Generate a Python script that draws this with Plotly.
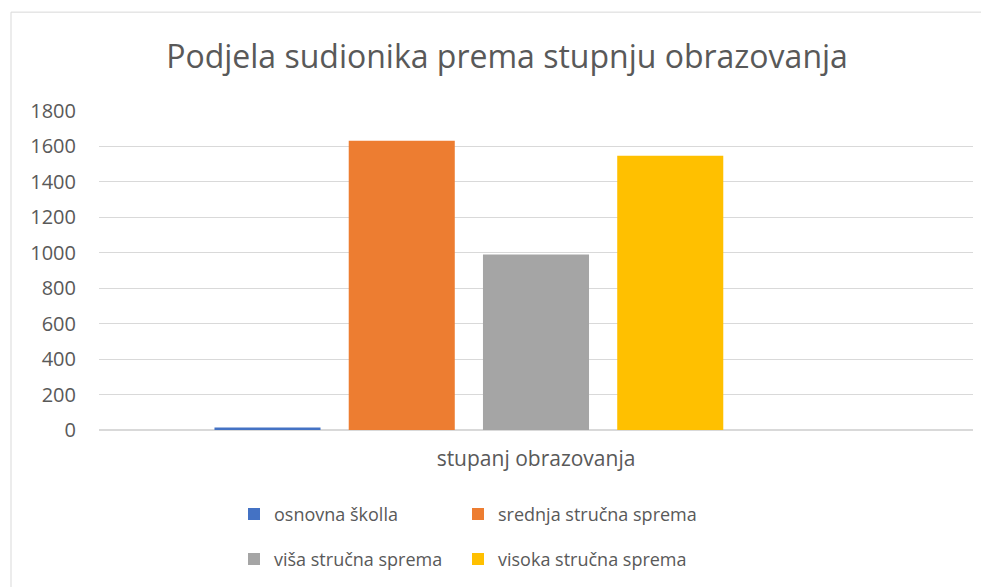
import plotly.graph_objects as go

categories = ["stupanj obrazovanja"]
series_names = ["osnovna školla", "srednja stručna sprema", "viša stručna sprema", "visoka stručna sprema"]
series_values = [14, 1632, 990, 1547]
series_colors = ["#4472C4", "#ED7D31", "#A5A5A5", "#FFC000"]
y_ticks = [0, 200, 400, 600, 800, 1000, 1200, 1400, 1600, 1800]
title_text = "Podjela sudionika prema stupnju obrazovanja"

OFF = 8  # page body margin
W, H = 989 - OFF, 587 - OFF
# plot area in page pixels: x 99..973, y 111..430.5
ML = 99 - OFF
MT = 111 - OFF
MR = W - ((989 - 16) - OFF)
MB = H - (430.5 - OFF)
FONT = "Open Sans"
TXT = "#595959"

fig = go.Figure()
legend_ids = ["legend", "legend2", "legend3", "legend4"]
for name, val, col, lg in zip(series_names, series_values, series_colors, legend_ids):
    fig.add_trace(go.Bar(x=categories, y=[val], name=name, marker_color=col,
                         marker_line_width=0, legend=lg))
# empty fifth slot (Excel layout leaves room for it)
fig.add_trace(go.Bar(x=categories, y=[None], name="", showlegend=False, hoverinfo="skip"))

pw = W - ML - MR
ph = H - MT - MB
def px2x(px):
    return (px - OFF - ML) / pw
def py2y(py):
    return (H - MB - (py - OFF)) / ph

fig.add_shape(type="rect", xref="paper", yref="paper",
              x0=px2x(11), x1=px2x(986), y0=py2y(620), y1=py2y(12),
              line=dict(color="#D9D9D9", width=1), fillcolor="rgba(0,0,0,0)", layer="below")

legend_pos = [(234, 515), (458, 515), (234, 560), (458, 560)]
legend_layouts = {}
for lg, (lx, ly) in zip(legend_ids, legend_pos):
    legend_layouts[lg] = dict(orientation="h", x=px2x(lx), xanchor="left", y=py2y(ly),
                              yanchor="middle", font=dict(size=18, color=TXT),
                              bgcolor="rgba(0,0,0,0)", itemclick=False)

fig.update_layout(
    width=W, height=H,
    margin=dict(l=ML, r=MR, t=MT, b=MB, autoexpand=False),
    paper_bgcolor="white", plot_bgcolor="white",
    barmode="group", bargap=0.232, bargroupgap=0.21,
    title=dict(text=title_text, x=(507 - OFF) / W, xanchor="center", y=1 - (57 - OFF) / H,
               yanchor="middle", yref="container", font=dict(family=FONT, size=32, color=TXT)),
    font=dict(family=FONT, size=18, color=TXT),
    xaxis=dict(showgrid=False, showline=False, ticks="", tickfont=dict(size=21, color=TXT),
               ticklabelstandoff=14),
    yaxis=dict(range=[0, 1800], tickvals=y_ticks, showgrid=True, gridcolor="#D9D9D9", gridwidth=1,
               zeroline=True, zerolinecolor="#D9D9D9", zerolinewidth=1.5, showline=False, ticks="",
               tickfont=dict(size=20, color=TXT), ticklabelstandoff=22),
    showlegend=True,
    **legend_layouts,
)

fig.write_html("out.html")
